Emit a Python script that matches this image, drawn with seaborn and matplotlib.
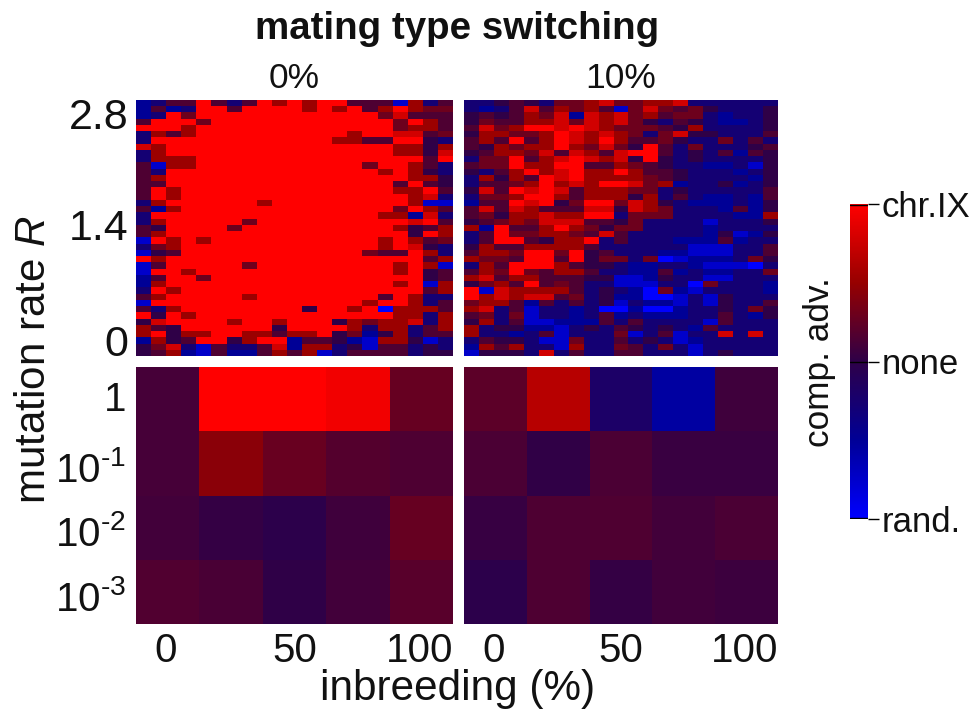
import matplotlib.pyplot as plt
import numpy as np
import seaborn as sns
from matplotlib.colors import LinearSegmentedColormap

W, H = 973, 711

# colour code of each cell in the R grids (0 = blue, 4 = none, 9 = red)
levels = [-1.0, -0.75, -0.5, -0.28, 0.0, 0.15, 0.3, 0.52, 0.78, 1.0]

grid_0 = [
    '235595359797995551735', '252399599997979579766', '239699999999999968555',
    '599969999999999996975', '999799999999999996775', '375799999999997998856',
    '399999999999977559943', '879999999999999997747', '379999999999999997748',
    '377799999999999999959', '517799999999999699753', '539999999999999979743',
    '579999999999999999774', '559999999999999995954', '597999999999999997795',
    '597999999999999999783', '379999997999999999711', '527999999999999996975',
    '399999999999999977283', '379999969999999999895',
    '549999699999999997457', '579999999999999999497', '197979999999999979756',
    '367999999999999979843', '145999999999999655973', '979999999999999999957',
    '159999969999999997971', '199799999999999997945', '259969999999999999945',
    '279999999999999997917', '397999999999999999957', '579999979999999959733',
    '199999999999999799735', '537999999994997907775', '949799999999999997737',
    '489999799799947677837', '754999999499997377357', '794779977577946247355',
    '274599479925542177413', '468315335827734155343', '457215225757135555344',
]

grid_10 = [
    '334543667866778333333', '323585767516865643334', '454576828786756632334',
    '465577868786435432234', '586799898766654733334', '477667987876368443335',
    '575957987975564336353', '547677976864953633345', '457768587589953435254',
    '366957898784943433334', '566977995576543322314', '435797897797554333234',
    '374759897777654333324', '355679787998672334234', '485989857776634333335',
    '366799757774735322325', '255989469968743222324', '585875558848763332524',
    '564778779936663333227', '456768885546333313334', '729557976466333323333',
    '359667765853333324124', '359954779353332225233', '475577775333333111335',
    '577699694533322111335', '766599594663601222364', '375999754432233211103',
    '576965775332252322336', '785775554411243311333', '467595653311133063332',
    '918777753432062133332', '978788563422001314333', '677525353413221314335',
    '783513323002002334364', '563613323523222335324', '473511222535333315333',
    '734422134354343253333', '733235133361351338383', '354431163353431233333',
    '275733173365363133333', '144438353355333134333',
]

# competitive advantage per mutation rate (rows) and inbreeding level (columns)
mut_0 = [
    [0.11, 1.00, 1.00, 0.93, 0.27],
    [0.11, 0.44, 0.28, 0.18, 0.15],
    [0.10, 0.03, -0.02, 0.08, 0.27],
    [0.17, 0.13, 0.00, 0.10, 0.20],
]
mut_10 = [
    [0.22, 0.65, -0.20, -0.55, 0.08],
    [0.14, 0.01, 0.14, 0.05, 0.05],
    [0.04, 0.15, 0.16, 0.10, 0.14],
    [-0.02, 0.15, 0.03, 0.09, 0.07],
]

rate_ticks = ['2.8', '1.4', '0']
mut_ticks = ['1', '10$^{\\text{-1}}$', '10$^{\\text{-2}}$', '10$^{\\text{-3}}$']
inbreeding_ticks = ['0', '50', '100']
switching = ['0%', '10%']
cbar_ticks = ['rand.', 'none', 'chr.IX']


def decode(rows):
    return np.array([[levels[int(c)] for c in row] for row in rows])


def px_axes(fig, left, top, right, bottom):
    return fig.add_axes([left / W, 1 - bottom / H, (right - left) / W, (bottom - top) / H])


def _main():
    sns.set_theme(style='white')
    plt.rcParams['font.family'] = ['Liberation Sans', 'DejaVu Sans']
    plt.rcParams['mathtext.fontset'] = 'custom'
    plt.rcParams['mathtext.rm'] = 'Liberation Sans'
    plt.rcParams['mathtext.it'] = 'Liberation Sans:italic'
    plt.rcParams['text.color'] = '#111111'
    plt.rcParams['xtick.labelcolor'] = '#111111'
    plt.rcParams['ytick.labelcolor'] = '#111111'

    cmap = LinearSegmentedColormap.from_list(
        'adv', [(0, '#0000ff'), (0.25, '#000096'), (0.5, '#2e0048'), (0.75, '#960000'), (1, '#ff0000')])
    fig = plt.figure(figsize=(W / 100, H / 100), dpi=100)
    cax = px_axes(fig, 850, 204, 868, 519)

    for col, (left, right) in enumerate([(136, 453), (464, 778)]):
        grid = decode(grid_0 if col == 0 else grid_10)
        mut = mut_0 if col == 0 else mut_10

        ax = px_axes(fig, left, 100, right, 356)
        sns.heatmap(grid, ax=ax, cmap=cmap, vmin=-1, vmax=1, cbar=col == 0, cbar_ax=cax if col == 0 else None,
                    xticklabels=False, yticklabels=False)
        ax.set_title(switching[col], fontsize=25.5, pad=9)
        ax.tick_params(length=0)
        if col == 0:
            ax.set_yticks([2.2, 20, 38.5], rate_ticks, fontsize=31, rotation=0)
            ax.tick_params(axis='y', pad=5.5)

        ax = px_axes(fig, left, 367, right, 624)
        sns.heatmap(mut, ax=ax, cmap=cmap, vmin=-1, vmax=1, cbar=False, yticklabels=False)
        ax.set_xticks([0.47, 2.5, 4.47], inbreeding_ticks, fontsize=29, rotation=0)
        ax.tick_params(length=0, axis='both', pad=6)
        if col == 0:
            ax.set_yticks([0.45, 1.55, 2.55, 3.55], mut_ticks, fontsize=29, rotation=0)
            ax.tick_params(axis='y', pad=7)

    cax.set_yticks([-1, 0, 1], cbar_ticks, fontsize=25)
    cax.tick_params(length=8, width=1, color='black', pad=2, right=True, labelright=True)
    for v in [-0.995, 0, 0.995]:
        cax.axhline(v, color='black', lw=1)
    for side in cax.spines.values():
        side.set_visible(False)

    fig.text(457 / W, 1 - 29 / H, 'mating type switching', fontsize=27.7, fontweight='bold', ha='center', va='center')
    fig.text(458 / W, 1 - 689 / H, 'inbreeding (%)', fontsize=30.4, ha='center', va='center')
    fig.text(34 / W, 1 - 360 / H, 'mutation rate $\\mathit{R}$', fontsize=30.3, rotation=90, ha='center', va='center')
    fig.text(819 / W, 1 - 362 / H, 'comp. adv.', fontsize=25.3, rotation=90, ha='center', va='center')

    fig.savefig('out.png', dpi=100)


if __name__ == '__main__':
    _main()
